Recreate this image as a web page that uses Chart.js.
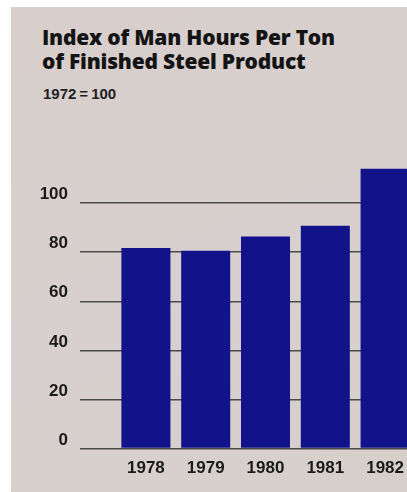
<!DOCTYPE html>
<html>
<head>
<meta charset="utf-8">
<script src="https://cdn.jsdelivr.net/npm/chart.js@4.4.0/dist/chart.umd.min.js"></script>
<style>
  html, body { margin: 0; padding: 0; background: #fff; overflow: hidden; width: 407px; height: 492px; }
  #paper {
    position: absolute; left: 11px; top: 7px; width: 420px; height: 490px;
    background: linear-gradient(160deg, #d8cfcd 0%, #d8d0ce 55%, #d6cfcc 100%);
  }
  #chart { position: absolute; left: 0; top: 0; }
  .title {
    position: absolute; left: 42px; top: 25px; margin: 0;
    font-family: "Open Sans", sans-serif; font-weight: 800; font-size: 21px; line-height: 24px;
    color: #141414; letter-spacing: -0.2px;
  }
  .sub {
    position: absolute; left: 43px; top: 85px;
    font-family: "Liberation Sans", Arial, sans-serif; font-weight: bold; font-size: 15px;
    color: #222;
  }
</style>
</head>
<body>
<div id="paper"></div>
<div class="title">Index of Man Hours Per Ton<br>of Finished Steel Product</div>
<div class="sub">1972&#8201;=&#8201;100</div>
<canvas id="chart" width="420" height="492"></canvas>
<script>
const years = ['1978', '1979', '1980', '1981', '1982'];
const hours = [81.7, 80.6, 86.4, 90.8, 114];
const yTicks = [0, 20, 40, 60, 80, 100];

const navy = '#12128b';
const ink = '#1a1a1a';
const rule = '#4a4a4a';

const data = {
    labels: years,
    datasets: [{
        data: hours,
        backgroundColor: navy,
        borderWidth: 0,
        categoryPercentage: 1,
        barPercentage: 0.82
    }]
};

const config = {
    type: 'bar',
    data: data,
    options: {
        responsive: false,
        animation: false,
        layout: { padding: { top: 154, right: 5, left: 0, bottom: 0 } },
        plugins: {
            legend: { display: false },
            tooltip: { enabled: false }
        },
        scales: {
            x: {
                grid: { display: false },
                border: { display: false },
                ticks: {
                    color: ink,
                    padding: 2,
                    font: { family: '"Liberation Sans", Arial, sans-serif', size: 17, weight: 'bold' }
                },
                afterFit: function (axis) { axis.height = 43.5; }
            },
            y: {
                min: 0,
                max: 120,
                border: { display: false },
                grid: {
                    color: rule,
                    lineWidth: 1.5,
                    drawTicks: true,
                    tickLength: 36,
                    tickColor: rule
                },
                afterBuildTicks: function (axis) {
                    axis.ticks = yTicks.map(function (v) { return { value: v }; });
                },
                ticks: {
                    color: ink,
                    padding: 12,
                    font: { family: '"Liberation Sans", Arial, sans-serif', size: 17, weight: 'bold', lineHeight: 1 },
                    callback: function (v) { return [String(v), '']; }
                },
                afterFit: function (axis) { axis.width = 116; }
            }
        }
    }
};

const myChart = new Chart(document.getElementById('chart'), config);
</script>
</body>
</html>
